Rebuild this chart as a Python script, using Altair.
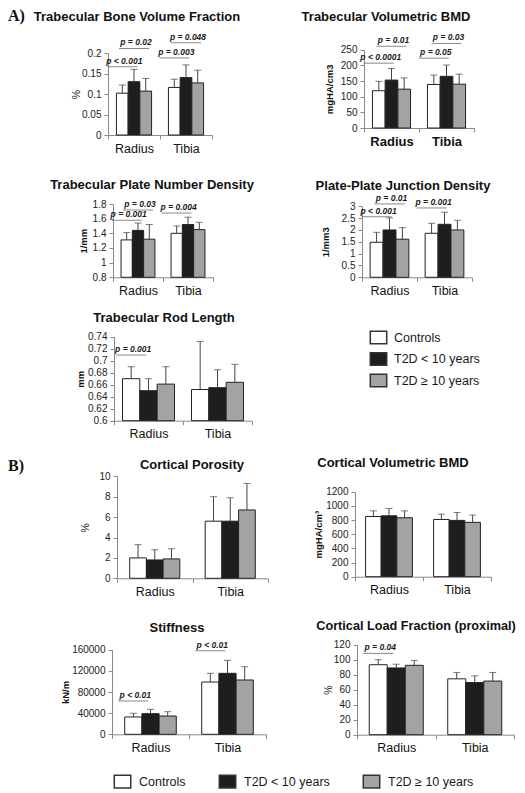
import altair as alt
import pandas as pd

OX, OY = 8, 8          # page margin -> view origin
W, H = 509, 772

SITES = ["Radius", "Tibia"]
GROUPS = ["Controls", "T2D < 10 years", "T2D ≥ 10 years"]
FILLS = ["#ffffff", "#1e1e1e", "#a3a3a3"]

# order: Radius (Controls, <10, >=10), Tibia (Controls, <10, >=10)
bvf_mean = [0.102, 0.130, 0.107, 0.116, 0.140, 0.127]
bvf_upper = [0.122, 0.160, 0.138, 0.136, 0.171, 0.158]
vbmd_mean = [119, 153, 124, 139, 165, 140]
vbmd_upper = [149, 190, 160, 169, 201, 172]
pnd_mean = [1.31, 1.44, 1.32, 1.40, 1.52, 1.45]
pnd_upper = [1.41, 1.54, 1.52, 1.50, 1.62, 1.55]
ppj_mean = [1.48, 2.00, 1.61, 1.86, 2.24, 2.00]
ppj_upper = [1.90, 2.51, 2.10, 2.28, 2.75, 2.41]
rod_mean = [0.670, 0.650, 0.661, 0.652, 0.655, 0.664]
rod_upper = [0.690, 0.670, 0.690, 0.732, 0.685, 0.694]
por_mean = [2.0, 1.8, 1.9, 5.6, 5.6, 6.7]
por_upper = [3.3, 2.8, 2.9, 8.0, 7.9, 9.3]
cbmd_mean = [850, 860, 832, 808, 795, 767]
cbmd_upper = [930, 962, 930, 883, 906, 870]
stf_mean = [32800, 39000, 34600, 98900, 115300, 102700]
stf_upper = [39700, 47200, 42800, 115300, 139800, 127900]
lf_mean = [93.3, 89.0, 92.5, 74.5, 69.5, 71.5]
lf_upper = [100.0, 94.0, 99.0, 83.0, 78.5, 83.0]

# tick labels
bvf_ticks = [0, 0.05, 0.1, 0.15, 0.2]
vbmd_ticks = [0, 50, 100, 150, 200, 250]
pnd_ticks = [0.8, 1, 1.2, 1.4, 1.6, 1.8]
ppj_ticks = [0, 0.5, 1, 1.5, 2, 2.5, 3]
rod_ticks = [0.6, 0.62, 0.64, 0.66, 0.68, 0.7, 0.72, 0.74]
por_ticks = [0, 2, 4, 6, 8, 10]
cbmd_ticks = [0, 200, 400, 600, 800, 1000, 1200]
stf_ticks = [0, 40000, 80000, 120000, 160000]
lf_ticks = [0, 20, 40, 60, 80, 100, 120]

# significance annotations: site, left group of compared pair, height, label
bvf_ann_site = ["Radius", "Radius", "Tibia", "Tibia"]
bvf_ann_from = ["Controls", "T2D < 10 years", "Controls", "T2D < 10 years"]
bvf_ann_y = [0.1665, 0.211, 0.188, 0.225]
bvf_ann_text = ["p < 0.001", "p = 0.02", "p = 0.003", "p = 0.048"]

vbmd_ann_site = ["Radius", "Radius", "Tibia", "Tibia"]
vbmd_ann_from = ["Controls", "T2D < 10 years", "Controls", "T2D < 10 years"]
vbmd_ann_y = [207, 261, 223, 270]
vbmd_ann_text = ["p < 0.0001", "p = 0.01", "p = 0.05", "p = 0.03"]

pnd_ann_site = ["Radius", "Radius", "Tibia"]
pnd_ann_from = ["Controls", "T2D < 10 years", "Controls"]
pnd_ann_y = [1.58, 1.718, 1.677]
pnd_ann_text = ["p = 0.001", "p = 0.03", "p = 0.004"]

ppj_ann_site = ["Radius", "Radius", "Tibia"]
ppj_ann_from = ["Controls", "T2D < 10 years", "Controls"]
ppj_ann_y = [2.56, 3.10, 2.93]
ppj_ann_text = ["p < 0.001", "p = 0.01", "p = 0.001"]

rod_ann_site = ["Radius"]
rod_ann_from = ["Controls"]
rod_ann_y = [0.7094]
rod_ann_text = ["p = 0.001"]

stf_ann_site = ["Radius", "Tibia"]
stf_ann_from = ["Controls", "Controls"]
stf_ann_y = [63000, 158000]
stf_ann_text = ["p < 0.01", "p < 0.01"]

lf_ann_site = ["Radius"]
lf_ann_from = ["Controls"]
lf_ann_y = [108.4]
lf_ann_text = ["p = 0.04"]

FONT = "Liberation Sans"
RECT = "M-1.3,-1H1.3V1H-1.3Z"


def legend(x, y, direction, label_offset, row_pad, col_pad):
    return alt.Legend(
        orient="none", legendX=x, legendY=y, direction=direction, title=None,
        symbolType=RECT, symbolSize=160, symbolStrokeColor="#333",
        symbolStrokeWidth=1.5, symbolOpacity=1, labelFont=FONT,
        labelFontSize=12.5, labelColor="#1a1a1a", labelOffset=label_offset,
        rowPadding=row_pad, columnPadding=col_pad,
    )


PANELS = [
    dict(mean=bvf_mean, upper=bvf_upper, ticks=bvf_ticks, ytitle="%", ybold=False,
         ann=(bvf_ann_site, bvf_ann_from, bvf_ann_y, bvf_ann_text),
         xr=(108, 212), yr=(131, 49), pad=0.72, tpad=0.5, catbold=False,
         legend=legend(363, 318, "vertical", 8, 2.5, 30)),
    dict(mean=vbmd_mean, upper=vbmd_upper, ticks=vbmd_ticks, ytitle="mgHA/cm3", ybold=True,
         ann=(vbmd_ann_site, vbmd_ann_from, vbmd_ann_y, vbmd_ann_text),
         xr=(364, 474), yr=(124, 45.7), pad=0.665, tpad=6, catbold=True),
    dict(mean=pnd_mean, upper=pnd_upper, ticks=pnd_ticks, ytitle="1/mm", ybold=True,
         ann=(pnd_ann_site, pnd_ann_from, pnd_ann_y, pnd_ann_text),
         xr=(113, 213), yr=(273.3, 200), pad=0.71, tpad=4, catbold=False),
    dict(mean=ppj_mean, upper=ppj_upper, ticks=ppj_ticks, ytitle="1/mm3", ybold=True,
         ann=(ppj_ann_site, ppj_ann_from, ppj_ann_y, ppj_ann_text),
         xr=(362, 472), yr=(273.3, 202.3), pad=0.63, tpad=10.5, catbold=False),
    dict(mean=rod_mean, upper=rod_upper, ticks=rod_ticks, ytitle="mm", ybold=True,
         ann=(rod_ann_site, rod_ann_from, rod_ann_y, rod_ann_text),
         xr=(114, 252), yr=(416.7, 332.7), pad=0.49, tpad=2, catbold=False),
    dict(mean=por_mean, upper=por_upper, ticks=por_ticks, ytitle="%", ybold=False,
         ann=None, xr=(117, 268), yr=(574.3, 472.3), pad=0.76, tpad=8, catbold=False,
         legend=legend(107, 762, "horizontal", 9, 2.5, 30)),
    dict(mean=cbmd_mean, upper=cbmd_upper, ticks=cbmd_ticks, ytitle="mgHA/cm³", ybold=True,
         ann=None, xr=(355, 491), yr=(572.7, 487.7), pad=0.68, tpad=2.5, catbold=False),
    dict(mean=stf_mean, upper=stf_upper, ticks=stf_ticks, ytitle="kN/m", ybold=True,
         ann=(stf_ann_site, stf_ann_from, stf_ann_y, stf_ann_text),
         xr=(112, 266), yr=(730.3, 645.7), pad=0.74, tpad=1, catbold=False),
    dict(mean=lf_mean, upper=lf_upper, ticks=lf_ticks, ytitle="%", ybold=False,
         ann=(lf_ann_site, lf_ann_from, lf_ann_y, lf_ann_text),
         xr=(357, 514), yr=(730.7, 640.7), pad=0.68, tpad=0, catbold=False),
]

TITLES = [
    ("Trabecular Bone Volume Fraction", 137, 17, 13),
    ("Trabecular Volumetric BMD", 386, 16.5, 13),
    ("Trabecular Plate Number Density", 152, 185, 13),
    ("Plate-Plate Junction Density", 403, 186, 13),
    ("Trabecular Rod Length", 164, 318, 13),
    ("Cortical Porosity", 192, 465, 13),
    ("Cortical Volumetric BMD", 393, 463, 13),
    ("Stiffness", 177, 628, 13),
    ("Cortical Load Fraction (proximal)", 416, 626, 12.7),
]
SECTIONS = [("A)", 8, 17), ("B)", 8, 467)]


def make_panel(p):
    df = pd.DataFrame({
        "site": [s for s in SITES for _ in GROUPS],
        "group": GROUPS * 2,
        "mean": p["mean"],
        "upper": p["upper"],
    })
    lo, hi = p["ticks"][0], p["ticks"][-1]
    df["base"] = lo
    x0, x1 = p["xr"]
    yb, yt = p["yr"]
    xsc = alt.Scale(domain=SITES, range=[x0 - OX, x1 - OX], paddingInner=0, paddingOuter=0)
    osc = alt.Scale(domain=GROUPS, paddingInner=0, paddingOuter=p["pad"])
    ysc = alt.Scale(domain=[lo, hi], range=[yb - OY, yt - OY], nice=False, zero=False)
    xax = alt.Axis(orient="bottom", offset=(yb - OY) - H, title=None, tickBand="extent",
                   labelAngle=0, labelFontSize=13 if p["catbold"] else 12.5,
                   labelFontWeight="bold" if p["catbold"] else "normal",
                   labelPadding=3, tickSize=4, labelColor="#111")
    yax = alt.Axis(orient="left", offset=-(x0 - OX), values=p["ticks"],
                   labelExpr="datum.value + ''",
                   title=p["ytitle"], titleFontWeight="bold" if p["ybold"] else "normal",
                   titleFontSize=9.5 if p["ybold"] else 10.5, titlePadding=p["tpad"],
                   tickSize=4, labelPadding=3, labelFontSize=10, labelOverlap=False,
                   labelColor="#222", titleColor="#111")
    X = alt.X("site:N", scale=xsc, sort=SITES, axis=xax)
    XO = alt.XOffset("group:N", scale=osc, sort=GROUPS)
    fill = alt.Fill("group:N", scale=alt.Scale(domain=GROUPS, range=FILLS),
                    legend=p["legend"] if "legend" in p else None)
    bars = alt.Chart(df).mark_bar(stroke="#222", strokeWidth=1).encode(
        x=X, xOffset=XO, y=alt.Y("mean:Q", scale=ysc, axis=yax), y2="base:Q", fill=fill)
    whisk = alt.Chart(df).mark_rule(color="#444", strokeWidth=1).encode(
        x=X, xOffset=XO, y=alt.Y("mean:Q", scale=ysc, axis=yax), y2="upper:Q")
    caps = alt.Chart(df).mark_tick(color="#444", thickness=1, size=7, orient="horizontal").encode(
        x=X, xOffset=XO, y=alt.Y("upper:Q", scale=ysc, axis=yax))
    layers = [bars, whisk, caps]
    if p["ann"] is not None:
        s, f, yv, t = p["ann"]
        adf = pd.DataFrame({"site": s, "from": f, "y": yv, "label": t})
        AXO = alt.XOffset("from:N", scale=osc, sort=GROUPS, bandPosition=1)
        aline = alt.Chart(adf).mark_tick(color="#555", thickness=1, size=30, orient="horizontal").encode(
            x=X, xOffset=AXO, y=alt.Y("y:Q", scale=ysc, axis=yax))
        atext = alt.Chart(adf).mark_text(font=FONT, fontSize=8.5, fontWeight="bold",
                                         fontStyle="italic", dx=2, dy=-3,
                                         baseline="alphabetic", color="#1a1a1a").encode(
            x=X, xOffset=AXO, y=alt.Y("y:Q", scale=ysc, axis=yax), text="label:N")
        layers += [aline, atext]
    return alt.layer(*layers)


layers = [make_panel(p) for p in PANELS]
for txt, x, y, fs in TITLES:
    layers.append(
        alt.Chart(pd.DataFrame({"t": [txt]})).mark_text(
            font=FONT, fontSize=fs, fontWeight="bold", align="center",
            baseline="alphabetic", color="#111").encode(
            text="t:N", x=alt.value(x - OX), y=alt.value(y - OY)))
for txt, x, y in SECTIONS:
    layers.append(
        alt.Chart(pd.DataFrame({"t": [txt]})).mark_text(
            font="Liberation Serif", fontSize=16, fontWeight="bold", align="left",
            baseline="alphabetic", color="#111").encode(
            text="t:N", x=alt.value(x - OX), y=alt.value(y - OY)))

chart = alt.layer(*layers).resolve_scale(
    x="independent", y="independent", xOffset="independent", fill="independent"
).properties(width=W, height=H, padding=0).configure(font=FONT).configure_view(
    stroke=None).configure_axis(grid=False, domainColor="#8a8a8a", tickColor="#8a8a8a",
                                labelFont=FONT, titleFont=FONT)

chart.save("out.html", embed_options={"renderer": "svg", "actions": False})
